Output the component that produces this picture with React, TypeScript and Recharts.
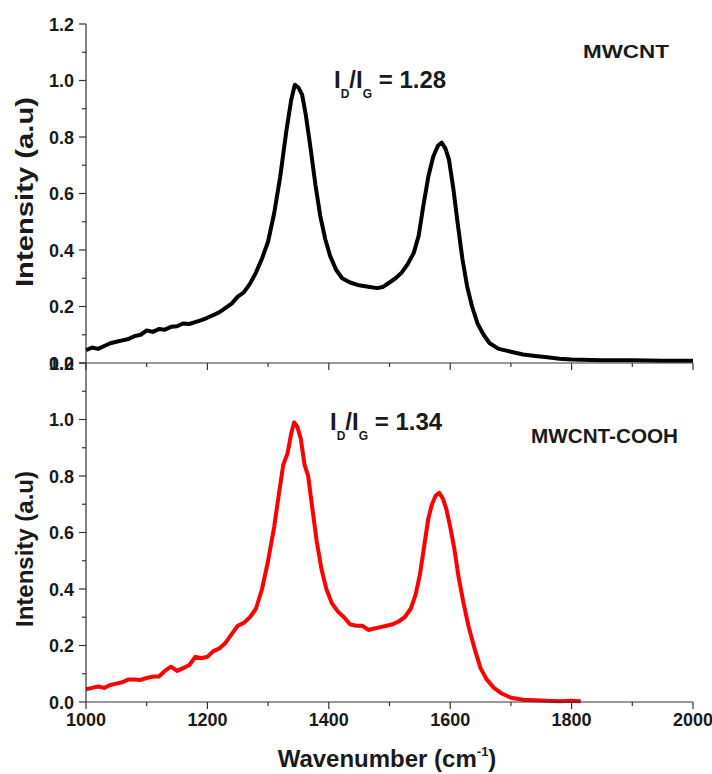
import React from 'react';
import { LineChart, Line, XAxis, YAxis } from 'recharts';

// MWCNT (black, top panel)
const mwcntWave = [
  1000, 1010, 1020, 1030, 1040, 1050, 1060, 1070, 1080, 1090, 1100, 1110, 1120, 1130, 1140, 1150,
  1160, 1170, 1180, 1190, 1200, 1210, 1220, 1230, 1240, 1250, 1260, 1270, 1280, 1290, 1300, 1310,
  1320, 1330, 1338, 1344, 1350, 1356, 1362, 1370, 1378, 1386, 1394, 1402, 1412, 1422, 1435, 1450,
  1465, 1480, 1490, 1500, 1510, 1520, 1530, 1540, 1548, 1556, 1564, 1572, 1580, 1586, 1592, 1598,
  1605, 1612, 1620, 1628, 1636, 1645, 1655, 1665, 1680, 1700, 1720, 1740, 1760, 1780, 1800, 1850,
  1900, 1950, 2000,
];
const mwcntIntensity = [
  0.045, 0.055, 0.05, 0.06, 0.07, 0.075, 0.08, 0.085, 0.095, 0.1, 0.115, 0.11, 0.12, 0.118, 0.128, 0.13,
  0.14, 0.138, 0.145, 0.152, 0.16, 0.17, 0.18, 0.195, 0.21, 0.235, 0.25, 0.28, 0.32, 0.37, 0.43, 0.53,
  0.66, 0.82, 0.93, 0.985, 0.975, 0.95, 0.88, 0.76, 0.63, 0.52, 0.44, 0.38, 0.33, 0.3, 0.285, 0.275,
  0.27, 0.265, 0.27, 0.285, 0.3, 0.32, 0.35, 0.39, 0.45, 0.56, 0.66, 0.73, 0.77, 0.78, 0.76, 0.72,
  0.62, 0.5, 0.37, 0.27, 0.2, 0.14, 0.1, 0.07, 0.05, 0.04, 0.03, 0.025, 0.02, 0.015, 0.012, 0.01,
  0.01, 0.008, 0.008,
];

// MWCNT-COOH (red, bottom panel)
const coohWave = [
  1000, 1010, 1020, 1030, 1040, 1050, 1060, 1070, 1080, 1090, 1100, 1110, 1120, 1130, 1140, 1150,
  1160, 1170, 1180, 1190, 1200, 1210, 1220, 1230, 1240, 1250, 1260, 1270, 1280, 1290, 1300, 1310,
  1318, 1325, 1332, 1338, 1343, 1348, 1354, 1360, 1366, 1372, 1380, 1388, 1396, 1405, 1415, 1425,
  1435, 1445, 1455, 1465, 1475, 1485, 1495, 1505, 1515, 1525, 1535, 1543, 1550, 1557, 1564, 1570,
  1576, 1582, 1588, 1594, 1600, 1607, 1614, 1622, 1630, 1640, 1650, 1660, 1672, 1685, 1700, 1720,
  1740, 1760, 1780, 1800, 1815,
];
const coohIntensity = [
  0.045, 0.05, 0.055, 0.05, 0.06, 0.065, 0.07, 0.08, 0.08, 0.078, 0.085, 0.09, 0.09, 0.11, 0.125, 0.11,
  0.12, 0.13, 0.16, 0.155, 0.16, 0.18, 0.19, 0.21, 0.24, 0.27, 0.28, 0.3, 0.33, 0.4, 0.5, 0.62,
  0.74, 0.84, 0.88, 0.95, 0.99, 0.975, 0.93, 0.84, 0.8, 0.7, 0.57, 0.47, 0.4, 0.35, 0.32, 0.3,
  0.275, 0.27, 0.27, 0.255, 0.26, 0.265, 0.27, 0.275, 0.285, 0.3, 0.33, 0.38, 0.45, 0.55, 0.65, 0.7,
  0.73, 0.74, 0.72, 0.68, 0.62, 0.54, 0.44, 0.35, 0.27, 0.19, 0.12, 0.08, 0.05, 0.03, 0.015, 0.008,
  0.006, 0.004, 0.003, 0.004, 0.003,
];

const xMajor = [1000, 1200, 1400, 1600, 1800, 2000];
const xMinor = [1100, 1300, 1500, 1700, 1900];
const yMajor = [0, 0.2, 0.4, 0.6, 0.8, 1.0, 1.2];
const yMinor = [0.1, 0.3, 0.5, 0.7, 0.9, 1.1];

const xTicks = [...xMajor, ...xMinor].sort((a, b) => a - b);
const yTicks = [...yMajor, ...yMinor].sort((a, b) => a - b);

const mwcntData = mwcntWave.map((x, i) => ({ x, y: mwcntIntensity[i] }));
const coohData = coohWave.map((x, i) => ({ x, y: coohIntensity[i] }));

const FONT = '"Liberation Sans", Arial, sans-serif';
const AXIS = '#333333';
const TEXT = '#1a1a1a';

const YTick = (props: any) => {
  const { x, y, payload } = props;
  const major = yMajor.includes(payload.value);
  return (
    <g>
      <line x1={x} x2={x - (major ? 7 : 4)} y1={y} y2={y} stroke={AXIS} strokeWidth={1.2} />
      {major && (
        <text x={x - 12} y={y + 6.5} textAnchor="end" fontFamily={FONT} fontWeight="bold" fontSize={18} fill={TEXT}>
          {payload.value.toFixed(1)}
        </text>
      )}
    </g>
  );
};

const makeXTick = (labels: boolean) => (props: any) => {
  const { x, y, payload } = props;
  const major = xMajor.includes(payload.value);
  return (
    <g>
      <line x1={x} x2={x} y1={y} y2={y + (major ? 7 : 4)} stroke={AXIS} strokeWidth={1.2} />
      {labels && major && (
        <text x={x} y={y + 24} textAnchor="middle" fontFamily={FONT} fontWeight="bold" fontSize={18} fill={TEXT}>
          {payload.value}
        </text>
      )}
    </g>
  );
};

const TopXTick = makeXTick(false);
const BottomXTick = makeXTick(true);

const axisCommon = {
  stroke: AXIS,
  strokeWidth: 1.2,
  tickLine: false,
  tickSize: 0,
  tickMargin: 0,
  interval: 0 as const,
};

export default function App() {
  return (
    <div style={{ position: 'absolute', left: 0, top: 0, width: 712, height: 774, background: '#fff' }}>
      <div style={{ position: 'absolute', left: 0, top: 0 }}>
        <LineChart width={712} height={370} data={mwcntData} margin={{ top: 24, right: 19, bottom: 0, left: 0 }}>
          <XAxis dataKey="x" type="number" domain={[1000, 2000]} ticks={xTicks} height={7} tick={<TopXTick />} {...axisCommon} />
          <XAxis xAxisId="top" orientation="top" dataKey="x" type="number" domain={[1000, 2000]} height={0} tick={false} stroke={AXIS} strokeWidth={1.2} />
          <YAxis type="number" domain={[0, 1.2]} ticks={yTicks} width={86} tick={<YTick />} {...axisCommon} />
          <YAxis yAxisId="right" orientation="right" type="number" domain={[0, 1.2]} width={0} tick={false} stroke={AXIS} strokeWidth={1.2} />
          <Line type="linear" dataKey="y" stroke="#000000" strokeWidth={4} strokeLinejoin="round" dot={false} isAnimationActive={false} />
        </LineChart>
      </div>
      <div style={{ position: 'absolute', left: 0, top: 330 }}>
        <LineChart width={712} height={444} data={coohData} margin={{ top: 33, right: 19, bottom: 0, left: 0 }}>
          <XAxis dataKey="x" type="number" domain={[1000, 2000]} ticks={xTicks} height={72} tick={<BottomXTick />} {...axisCommon} />
          <YAxis type="number" domain={[0, 1.2]} ticks={yTicks} width={86} tick={<YTick />} {...axisCommon} />
          <YAxis yAxisId="right" orientation="right" type="number" domain={[0, 1.2]} width={0} tick={false} stroke={AXIS} strokeWidth={1.2} />
          <Line type="linear" dataKey="y" stroke="#ff0000" strokeWidth={4} strokeLinejoin="round" dot={false} isAnimationActive={false} />
        </LineChart>
      </div>
      <svg width={712} height={774} style={{ position: 'absolute', left: 0, top: 0, pointerEvents: 'none' }} fontFamily={FONT}>
        <text transform="translate(33,192) rotate(-90)" textAnchor="middle" fontSize={24} fontWeight="bold" fill={TEXT} textLength={190} lengthAdjust="spacingAndGlyphs">
          Intensity (a.u)
        </text>
        <text transform="translate(33,549) rotate(-90)" textAnchor="middle" fontSize={24} fontWeight="bold" fill={TEXT} textLength={156} lengthAdjust="spacingAndGlyphs">
          Intensity (a.u)
        </text>
        <text x={387} y={767} textAnchor="middle" fontSize={24} fontWeight="bold" fill={TEXT}>
          Wavenumber (cm<tspan fontSize={13} dy={-11}>-1</tspan><tspan dy={11}>)</tspan>
        </text>
        <text x={583} y={58} fontSize={19} fontWeight="bold" fill={TEXT} textLength={86} lengthAdjust="spacingAndGlyphs">MWCNT</text>
        <text x={531} y={443} fontSize={20} fontWeight="bold" fill={TEXT} textLength={147} lengthAdjust="spacingAndGlyphs">MWCNT-COOH</text>
        <text x={334} y={88} fontSize={24} fontWeight="bold" fill={TEXT}>
          I<tspan fontSize={12} dy={10}>D</tspan><tspan dy={-10}>/I</tspan><tspan fontSize={12} dy={10}>G</tspan><tspan dy={-10}> = 1.28</tspan>
        </text>
        <text x={330} y={430} fontSize={24} fontWeight="bold" fill={TEXT}>
          I<tspan fontSize={12} dy={10}>D</tspan><tspan dy={-10}>/I</tspan><tspan fontSize={12} dy={10}>G</tspan><tspan dy={-10}> = 1.34</tspan>
        </text>
      </svg>
    </div>
  );
}
